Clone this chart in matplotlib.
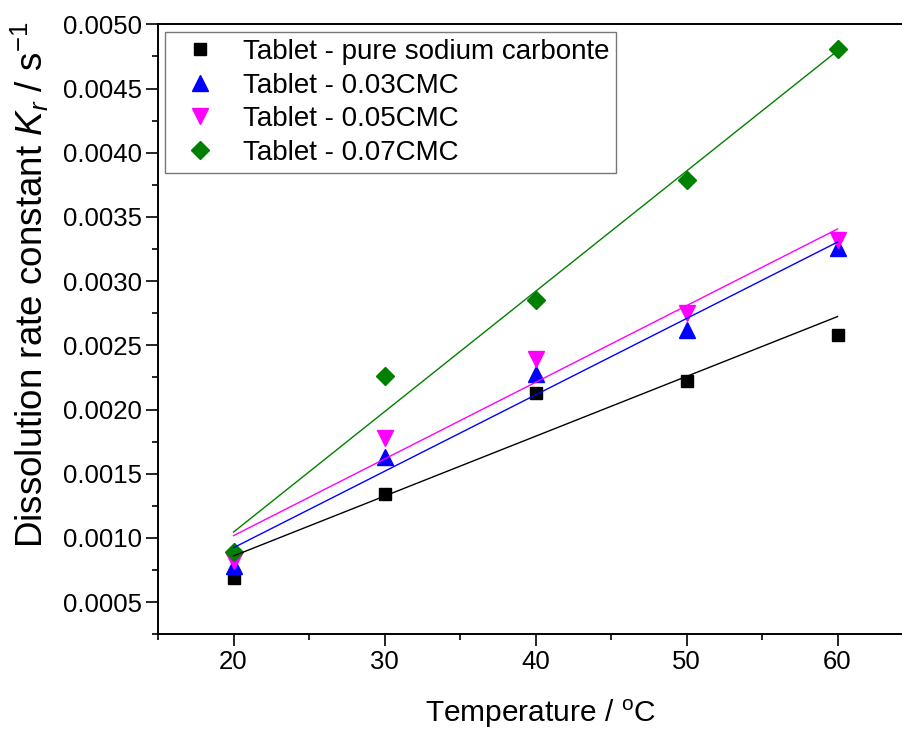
import numpy as np
import matplotlib.pyplot as plt

# dissolution rate constants read per tablet composition
temperature = [20, 30, 40, 50, 60]
k_pure = [0.00069, 0.00134, 0.00213, 0.00222, 0.00258]
k_cmc003 = [0.00078, 0.00163, 0.00228, 0.00262, 0.00326]
k_cmc005 = [0.00082, 0.00178, 0.00239, 0.00275, 0.00332]
k_cmc007 = [0.00089, 0.00226, 0.00285, 0.00379, 0.00481]

labels = ["Tablet - pure sodium carbonte", "Tablet - 0.03CMC",
          "Tablet - 0.05CMC", "Tablet - 0.07CMC"]
colors = ["black", "#0000ff", "#ff00ff", "#008000"]
markers = ["s", "^", "v", "D"]
msizes = [8.6, 12, 12, 9.5]

plt.rcParams["font.family"] = ["Liberation Sans", "DejaVu Sans"]
plt.rcParams["mathtext.fontset"] = "custom"
plt.rcParams["mathtext.rm"] = "Liberation Sans"
plt.rcParams["mathtext.it"] = "Liberation Sans:italic"

fig = plt.figure(figsize=(9.02, 7.33), dpi=100)
ax = fig.add_axes([158 / 902, 1 - 634.3 / 733, 755 / 902, 610 / 733])

series = [k_pure, k_cmc003, k_cmc005, k_cmc007]
x = np.array(temperature)
for i, k in enumerate(series):
    ax.plot(x, k, linestyle="none", marker=markers[i], ms=msizes[i],
            color=colors[i], mec=colors[i], label=labels[i], zorder=3 + i * 0.1)
# linear fits on top of the symbols
for i, k in enumerate(series):
    a, b = np.polyfit(x, k, 1)
    ax.plot(x[[0, -1]], a * x[[0, -1]] + b, color=colors[i], lw=1.0, zorder=5)

ax.set_xlim(15, 65)
ax.set_ylim(0.00025, 0.0050)
ax.set_xticks([20, 30, 40, 50, 60])
ax.set_xticks(np.arange(15, 66, 5), minor=True)
ax.set_yticks(np.arange(0.0005, 0.00501, 0.0005))
ax.set_yticks(np.arange(0.00025, 0.00501, 0.00025), minor=True)
ax.yaxis.set_major_formatter(plt.FormatStrFormatter("%.4f"))

for s in ax.spines.values():
    s.set_linewidth(1.4)
ax.tick_params(which="major", length=8.5, width=1.2, labelsize=18.5, direction="out")
ax.tick_params(which="minor", length=4.5, width=1.2, direction="out")
ax.tick_params(axis="x", pad=3)
ax.tick_params(axis="y", pad=3)

ax.set_xlabel("Temperature / $^{\\mathregular{o}}$C", fontsize=21.5)
ax.xaxis.set_label_coords(0.506, -0.13)
ax.xaxis.label.set_va("center")
ax.set_ylabel("Dissolution rate constant $K_r$ / s$^{\\mathregular{-1}}$", fontsize=26.5)
ax.yaxis.set_label_coords(-0.1695, 0.572)
ax.yaxis.label.set_va("center")

leg = ax.legend(loc="upper left", bbox_to_anchor=(0.0093, 0.987), borderaxespad=0,
                fontsize=20, frameon=True, fancybox=False, borderpad=0.25,
                handlelength=2.05, handletextpad=0.5, labelspacing=0.27,
                numpoints=1)
leg.get_frame().set_edgecolor("#555555")
leg.get_frame().set_linewidth(1.0)

fig.savefig("out.png", dpi=100)
